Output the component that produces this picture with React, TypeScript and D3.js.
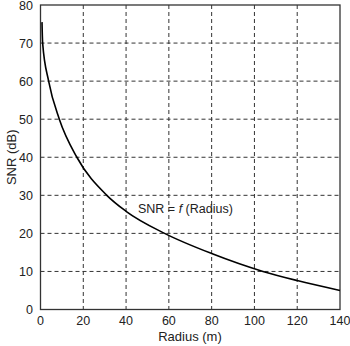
import React from "react";
import * as d3 from "d3";

const radius = [0.7, 1, 3.8, 8.8, 17, 31, 40, 58, 80, 104, 120, 140];
const snr = [75.5, 70, 60, 50, 40, 30, 25.8, 20, 14.7, 10, 7.6, 5];
const xTicks = [0, 20, 40, 60, 80, 100, 120, 140];
const yTicks = [0, 10, 20, 30, 40, 50, 60, 70, 80];

const W = 350, H = 346;
const L = 40.5, R = 340, T = 5, B = 309.5;

export default function App() {
  const x = d3.scaleLinear().domain([0, 140]).range([L, R]);
  const y = d3.scaleLinear().domain([0, 80]).range([B, T]);
  const line = d3
    .line<number>()
    .x((_, i) => x(radius[i]))
    .y((d) => y(d))
    .curve(d3.curveMonotoneX);
  const font = "Liberation Sans, Arial, Helvetica, sans-serif";
  return (
    <svg
      width={W}
      height={H}
      style={{ position: "absolute", left: 0, top: 0, background: "#fff" }}
      fontFamily={font}
    >
      {xTicks.slice(1, -1).map((t) => (
        <line key={"gx" + t} x1={x(t)} x2={x(t)} y1={T} y2={B} stroke="#333" strokeWidth={1} strokeDasharray="4,3" />
      ))}
      {yTicks.slice(1, -1).map((t) => (
        <line key={"gy" + t} x1={L} x2={R} y1={y(t)} y2={y(t)} stroke="#333" strokeWidth={1} strokeDasharray="4,3" />
      ))}
      <rect x={L} y={T} width={R - L} height={B - T} fill="none" stroke="#333" strokeWidth={1.3} />
      {xTicks.map((t) => (
        <text key={"xt" + t} x={x(t)} y={325} textAnchor="middle" fontSize={12.5} fill="#222">
          {t}
        </text>
      ))}
      {yTicks.map((t) => (
        <text key={"yt" + t} x={33} y={y(t) + 4.5} textAnchor="end" fontSize={12.5} fill="#222">
          {t}
        </text>
      ))}
      <path d={line(snr) || ""} fill="none" stroke="#000" strokeWidth={1.6} />
      <text x={190} y={341} textAnchor="middle" fontSize={13} fill="#222">
        Radius (m)
      </text>
      <text
        transform={`translate(16,${(T + B) / 2}) rotate(-90)`}
        textAnchor="middle"
        fontSize={13}
        fill="#222"
      >
        SNR (dB)
      </text>
      <text x={138} y={212.5} fontSize={12.5} fill="#222">
        SNR = <tspan fontStyle="italic">f</tspan> (Radius)
      </text>
    </svg>
  );
}
